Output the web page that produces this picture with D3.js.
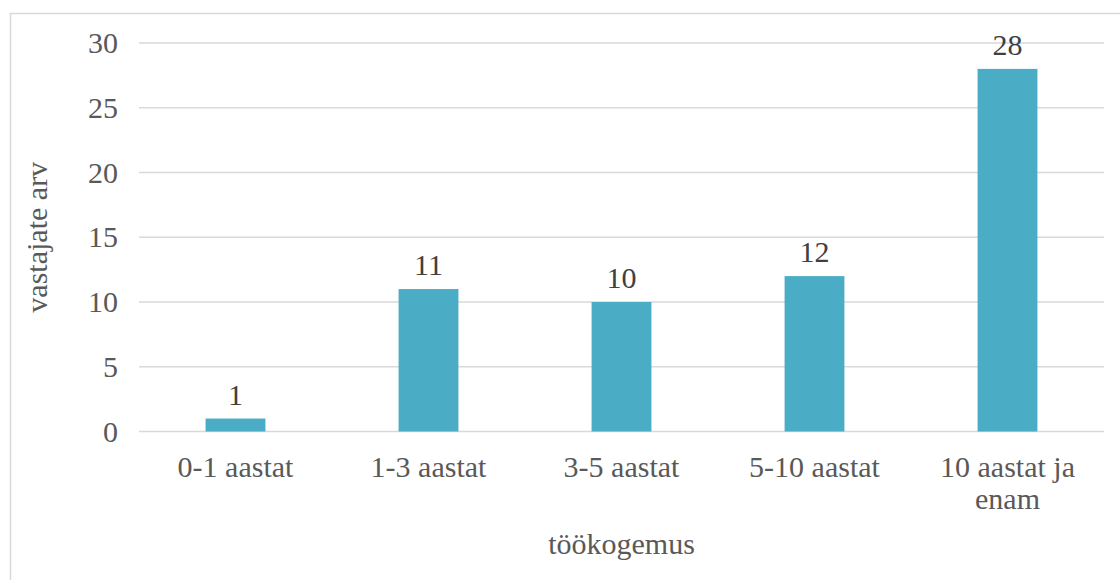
<!DOCTYPE html>
<html>
<head>
<meta charset="utf-8">
<script src="https://cdn.jsdelivr.net/npm/d3@7"></script>
</head>
<body style="margin:0">
<svg id="chart" width="1120" height="580"></svg>
<script>
// Respondents by work experience
const categories = ["0-1 aastat", "1-3 aastat", "3-5 aastat", "5-10 aastat", "10 aastat ja enam"];
const categoryLines = [["0-1 aastat"], ["1-3 aastat"], ["3-5 aastat"], ["5-10 aastat"], ["10 aastat ja", "enam"]];
const counts = [1, 11, 10, 12, 28];
const yTicks = [0, 5, 10, 15, 20, 25, 30];
const xTitle = "töökogemus";
const yTitle = "vastajate arv";

const svg = d3.select("#chart");
const W = 1120, H = 580;
const margin = { top: 43, right: 16, bottom: 148, left: 139 };
const textColor = "#595959";

// serif text styling shared by every label
function serif(sel) {
  return sel.attr("font-family", "Liberation Serif")
    .style("font-family", '"Liberation Serif"')
    .attr("font-size", 30);
}

// outer chart border
svg.append("rect")
  .attr("x", 10.5).attr("y", 13.5)
  .attr("width", W + 20).attr("height", H + 20)
  .attr("fill", "none").attr("stroke", "#d9d9d9").attr("stroke-width", 1.5);

const x = d3.scaleBand()
  .domain(categories)
  .range([margin.left, W - margin.right])
  .paddingInner(0.69).paddingOuter(0.345);

const y = d3.scaleLinear()
  .domain([0, 30])
  .range([H - margin.bottom - 0.5, margin.top]);

// horizontal gridlines
svg.append("g")
  .selectAll("line")
  .data(yTicks)
  .join("line")
  .attr("x1", margin.left).attr("x2", W - margin.right)
  .attr("y1", d => y(d)).attr("y2", d => y(d))
  .attr("stroke", "#d9d9d9").attr("stroke-width", 1.5);

// y axis tick labels
const yAxis = d3.axisLeft(y).tickValues(yTicks).tickSize(0).tickPadding(21);
svg.append("g")
  .attr("transform", `translate(${margin.left},0)`)
  .call(yAxis)
  .call(g => g.attr("font-family", "Liberation Serif").attr("font-size", 30))
  .call(g => g.select(".domain").remove())
  .call(g => g.selectAll("text").attr("fill", textColor).call(serif));

// bars
svg.append("g")
  .selectAll("rect")
  .data(counts)
  .join("rect")
  .attr("x", (d, i) => x(categories[i]))
  .attr("width", x.bandwidth())
  .attr("y", d => y(d))
  .attr("height", d => y(0) - y(d))
  .attr("fill", "#4BACC6");

// value labels
svg.append("g")
  .selectAll("text")
  .data(counts)
  .join("text")
  .attr("x", (d, i) => x(categories[i]) + x.bandwidth() / 2)
  .attr("y", d => y(d) - 14)
  .attr("text-anchor", "middle")
  .attr("fill", "#404040")
  .call(serif)
  .text(d => d);

// category labels (wrapped)
const xl = svg.append("g")
  .selectAll("text")
  .data(categories)
  .join("text")
  .attr("x", d => x(d) + x.bandwidth() / 2)
  .attr("y", y(0) + 45)
  .attr("text-anchor", "middle")
  .attr("fill", textColor)
  .call(serif);
xl.selectAll("tspan")
  .data((d, i) => categoryLines[i])
  .join("tspan")
  .attr("x", function () { return d3.select(this.parentNode).attr("x"); })
  .attr("dy", (d, i) => i === 0 ? 0 : 32)
  .text(d => d);

// axis titles
svg.append("text")
  .attr("x", (margin.left + W - margin.right) / 2)
  .attr("y", 554)
  .attr("text-anchor", "middle")
  .attr("fill", textColor)
  .call(serif)
  .text(xTitle);

svg.append("text")
  .attr("transform", `translate(47,${(y(0) + y(30)) / 2}) rotate(-90)`)
  .attr("text-anchor", "middle")
  .attr("fill", textColor)
  .call(serif)
  .text(yTitle);
</script>
</body>
</html>
